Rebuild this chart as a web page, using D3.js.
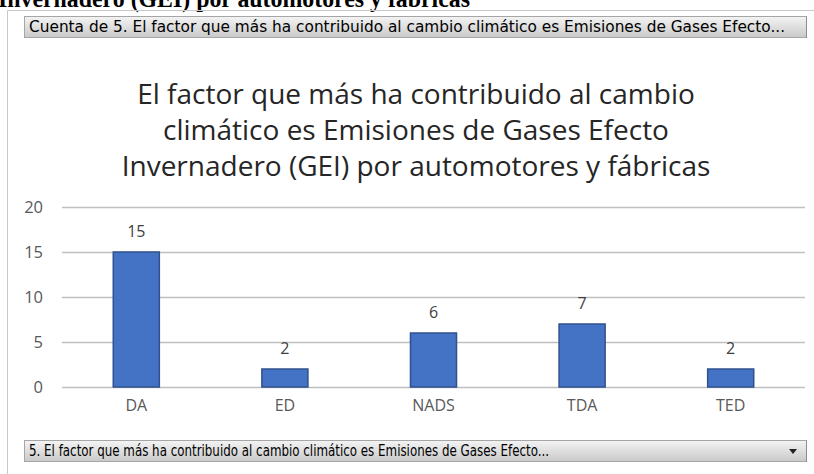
<!DOCTYPE html>
<html>
<head>
<meta charset="utf-8">
<script src="https://cdn.jsdelivr.net/npm/d3@7"></script>
<style>
  body { margin: 0; background: #fff; }
  svg { display: block; }
</style>
</head>
<body>
<div id="chart"></div>
<script>
const categories = ["DA", "ED", "NADS", "TDA", "TED"]
const counts = [15, 2, 6, 7, 2]
const yTicks = [0, 5, 10, 15, 20]
const titleLines = [
    "El factor que más ha contribuido al cambio",
    "climático es Emisiones de Gases Efecto",
    "Invernadero (GEI) por automotores y fábricas"
]
const pageHeading = "Invernadero (GEI) por automotores y fábricas"
const valueButtonText = "Cuenta de 5. El factor que más ha contribuido al cambio climático es Emisiones de Gases Efecto..."
const fieldButtonText = "5. El factor que más ha contribuido al cambio climático es Emisiones de Gases Efecto..."

const width = 814
const height = 474
const plot = {left: 62, right: 805, top: 207, bottom: 387}

const svg = d3.select("#chart")
    .append("svg")
    .attr("width", width)
    .attr("height", height)

const defs = svg.append("defs")
const grad = defs.append("linearGradient")
    .attr("id", "btn")
    .attr("x1", 0).attr("y1", 0).attr("x2", 0).attr("y2", 1)
grad.append("stop").attr("offset", "0%").attr("stop-color", "#f4f4f4")
grad.append("stop").attr("offset", "100%").attr("stop-color", "#c9c9c9")

// document heading, clipped at the top of the screenshot
svg.append("text")
    .attr("x", -2)
    .attr("y", 7)
    .attr("textLength", 472)
    .attr("lengthAdjust", "spacingAndGlyphs")
    .style("font-family", "Liberation Serif")
    .style("font-weight", "bold")
    .style("font-size", "26px")
    .text(pageHeading)

// chart frame
svg.append("path")
    .attr("d", `M7.5,${height} V10.5 H${width}`)
    .style("fill", "none")
    .style("stroke", "#c8c8c8")
    .style("stroke-width", 1)

// pivot buttons
function pivotButton(y, label, textLen, arrow) {
    const g = svg.append("g").attr("transform", `translate(24, ${y})`)
    g.append("rect")
        .attr("x", 0.5).attr("y", 0.5)
        .attr("width", 782).attr("height", 21)
        .style("fill", "url(#btn)")
        .style("stroke", "#a6a6a6")
    g.append("line")
        .attr("x1", 782.5).attr("x2", 782.5).attr("y1", 1).attr("y2", 22)
        .style("stroke", "#8c8c8c")
    g.append("text")
        .attr("x", 5)
        .attr("y", 16)
        .attr("textLength", textLen)
        .attr("lengthAdjust", "spacingAndGlyphs")
        .style("font-family", "'Liberation Sans Narrow', 'DejaVu Sans Condensed', sans-serif")
        .style("font-size", "15px")
        .style("fill", "#000")
        .text(label)
    if (arrow) {
        g.append("path")
            .attr("d", "M765,9 h8 l-4,5 z")
            .style("fill", "#222")
    }
}
pivotButton(16, valueButtonText, 756, false)
pivotButton(440, fieldButtonText, 520, true)

// title
svg.append("g")
    .selectAll("text")
    .data(titleLines)
    .join("text")
    .attr("x", 416)
    .attr("y", (d, i) => 104 + i * 36)
    .attr("text-anchor", "middle")
    .style("font-family", "'Open Sans'")
    .style("font-size", "28px")
    .style("fill", "#262626")
    .text(d => d)

const xScale = d3.scaleBand()
    .domain(categories)
    .range([plot.left, plot.right])
    .paddingInner(0.69)
    .paddingOuter(0.345)

const yScale = d3.scaleLinear()
    .domain([0, 20])
    .range([plot.bottom, plot.top])

// gridlines
svg.append("g")
    .selectAll("line")
    .data(yTicks)
    .join("line")
    .attr("x1", plot.left)
    .attr("x2", plot.right)
    .attr("y1", d => yScale(d) + 0.5)
    .attr("y2", d => yScale(d) + 0.5)
    .style("stroke", "#bfbfbf")
    .style("stroke-width", 1.5)

// left axis labels
const yAxis = svg.append("g")
    .attr("transform", `translate(43, 0)`)
    .call(d3.axisLeft(yScale).tickValues(yTicks).tickSize(0).tickPadding(0))
yAxis.select(".domain").remove()
yAxis.selectAll("text")
    .style("font-family", "'Open Sans'")
    .style("font-size", "16.5px")
    .style("fill", "#595959")

// bars
svg.append("g")
    .selectAll("rect")
    .data(counts)
    .join("rect")
    .attr("x", (d, i) => xScale(categories[i]))
    .attr("y", d => yScale(d))
    .attr("width", xScale.bandwidth())
    .attr("height", d => yScale(0) - yScale(d))
    .style("fill", "#4472c4")
    .style("stroke", "#2f528f")
    .style("stroke-width", 1.5)

// value labels
svg.append("g")
    .selectAll("text")
    .data(counts)
    .join("text")
    .attr("x", (d, i) => xScale(categories[i]) + xScale.bandwidth() / 2)
    .attr("y", d => yScale(d) - 15)
    .attr("text-anchor", "middle")
    .style("font-family", "'Open Sans'")
    .style("font-size", "16px")
    .style("fill", "#404040")
    .text(d => d)

// bottom axis labels
const xAxis = svg.append("g")
    .attr("transform", `translate(0, ${plot.bottom + 13})`)
    .call(d3.axisBottom(xScale).tickSize(0).tickPadding(0))
xAxis.select(".domain").remove()
xAxis.selectAll("text")
    .style("font-family", "'Open Sans'")
    .style("font-size", "16px")
    .style("fill", "#595959")
</script>
</body>
</html>
